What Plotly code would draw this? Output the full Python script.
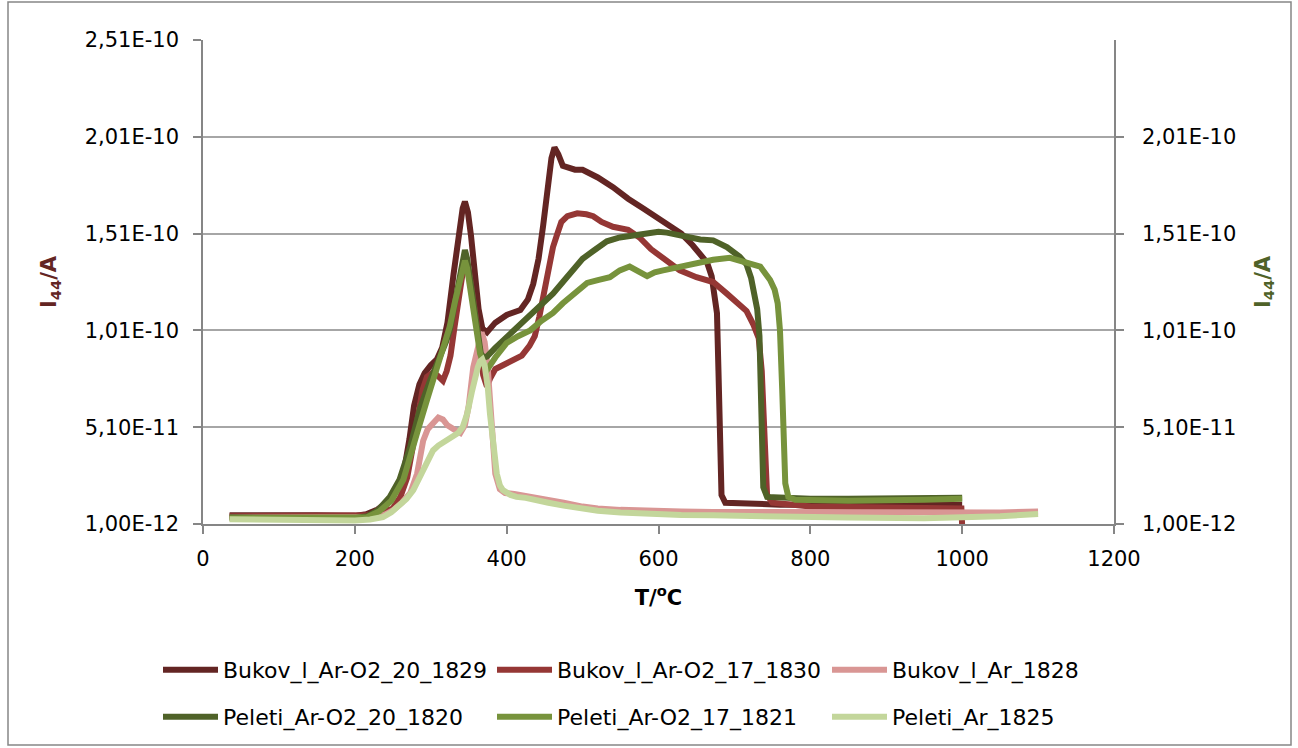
import plotly.graph_objects as go

# ---------------- data (T in °C, I44 in units of 1e-10 A) ----------------
bukov20_T = [35, 100, 150, 200, 215, 230, 245, 255, 265, 272, 278, 285, 292, 300, 308, 315, 322, 330, 337, 342, 345, 349, 353, 358, 363, 368, 374, 385, 400, 418, 428, 435, 442, 448, 454, 459, 463, 468, 474, 480, 490, 500, 510, 520, 540, 560, 580, 600, 615, 630, 645, 655, 664, 670, 674, 677, 679, 680, 681, 683, 688, 720, 760, 850, 950, 1000]
bukov20_I = [0.055, 0.058, 0.055, 0.052, 0.06, 0.085, 0.13, 0.19, 0.29, 0.45, 0.62, 0.73, 0.79, 0.83, 0.86, 0.92, 1.05, 1.30, 1.52, 1.64, 1.675, 1.62, 1.50, 1.32, 1.12, 1.02, 1.00, 1.05, 1.09, 1.115, 1.17, 1.25, 1.38, 1.55, 1.75, 1.90, 1.955, 1.92, 1.86, 1.85, 1.84, 1.84, 1.82, 1.80, 1.75, 1.69, 1.64, 1.59, 1.55, 1.51, 1.45, 1.40, 1.36, 1.29, 1.20, 1.10, 0.80, 0.50, 0.30, 0.16, 0.12, 0.115, 0.11, 0.11, 0.11, 0.11]

bukov17_T = [35, 100, 150, 200, 220, 235, 250, 260, 269, 276, 282, 289, 295, 302, 308, 316, 321, 326, 331, 336, 341, 346, 350, 354, 360, 365, 369, 374, 378, 385, 395, 408, 420, 430, 437, 443, 449, 455, 461, 466, 472, 480, 493, 505, 514, 525, 540, 560, 575, 590, 606, 628, 650, 672, 690, 705, 716, 725, 732, 736, 738, 740, 743, 750, 800, 900, 999, 1000]
bukov17_I = [0.05, 0.05, 0.048, 0.048, 0.055, 0.07, 0.09, 0.15, 0.25, 0.40, 0.55, 0.70, 0.77, 0.79, 0.78, 0.75, 0.80, 0.88, 1.02, 1.18, 1.28, 1.36, 1.32, 1.22, 1.08, 0.93, 0.78, 0.72, 0.76, 0.81, 0.83, 0.86, 0.88, 0.93, 0.98, 1.08, 1.20, 1.33, 1.44, 1.50, 1.57, 1.60, 1.615, 1.61, 1.60, 1.57, 1.545, 1.53, 1.49, 1.43, 1.38, 1.32, 1.285, 1.26, 1.20, 1.15, 1.11, 1.04, 0.97, 0.80, 0.60, 0.30, 0.16, 0.12, 0.10, 0.095, 0.09, 0.0]

bukovAr_T = [35, 100, 150, 200, 225, 240, 250, 262, 273, 282, 290, 296, 303, 310, 316, 322, 330, 339, 345, 350, 356, 362, 367, 371, 375, 379, 382, 385, 391, 398, 410, 425, 440, 455, 475, 500, 520, 550, 585, 630, 672, 760, 850, 950, 1000, 1050, 1100]
bukovAr_I = [0.045, 0.045, 0.042, 0.04, 0.045, 0.06, 0.08, 0.12, 0.17, 0.27, 0.44, 0.50, 0.535, 0.56, 0.55, 0.52, 0.50, 0.48, 0.52, 0.62, 0.82, 0.94, 1.0, 0.95, 0.82, 0.60, 0.40, 0.27, 0.19, 0.17, 0.165, 0.155, 0.15, 0.14, 0.12, 0.10, 0.09, 0.083, 0.077, 0.074, 0.072, 0.07, 0.068, 0.067, 0.067, 0.07, 0.075]

peleti20_T = [35, 100, 150, 200, 216, 230, 246, 259, 273, 286, 299, 312, 320, 325, 330, 334, 339, 343, 345, 348, 352, 355, 358, 362, 366, 370, 374, 385, 400, 415, 431, 446, 461, 474, 487, 500, 514, 532, 549, 566, 585, 600, 611, 628, 655, 672, 690, 707, 716, 722, 727, 730, 733, 735, 736, 738, 743, 760, 800, 850, 900, 950, 1000]
peleti20_I = [0.045, 0.042, 0.04, 0.04, 0.05, 0.08, 0.15, 0.24, 0.41, 0.61, 0.75, 0.87, 0.95, 1.01, 1.12, 1.22, 1.33, 1.41, 1.425, 1.38, 1.27, 1.17, 1.06, 0.96, 0.89, 0.87, 0.875, 0.92, 0.975, 1.03, 1.08, 1.14, 1.20, 1.26, 1.32, 1.38, 1.42, 1.47, 1.49, 1.50, 1.51, 1.52, 1.515, 1.50, 1.48, 1.475, 1.44, 1.39, 1.35, 1.28, 1.20, 1.12, 0.98, 0.70, 0.40, 0.20, 0.15, 0.145, 0.14, 0.14, 0.14, 0.14, 0.145]

peleti17_T = [35, 100, 150, 200, 216, 232, 248, 264, 273, 282, 295, 308, 317, 325, 332, 339, 343, 345, 348, 352, 356, 361, 365, 370, 374, 385, 400, 415, 431, 446, 461, 474, 487, 506, 520, 536, 549, 562, 585, 595, 606, 632, 650, 672, 694, 716, 734, 747, 753, 757, 760, 763, 765, 767, 771, 780, 850, 900, 950, 1000]
peleti17_I = [0.04, 0.04, 0.038, 0.038, 0.045, 0.075, 0.13, 0.24, 0.35, 0.48, 0.65, 0.82, 0.93, 1.03, 1.16, 1.27, 1.34, 1.37, 1.33, 1.23, 1.10, 0.975, 0.89, 0.83, 0.805, 0.87, 0.945, 0.98, 1.01, 1.06, 1.10, 1.15, 1.19, 1.255, 1.27, 1.285, 1.32, 1.34, 1.29, 1.31, 1.32, 1.34, 1.36, 1.375, 1.385, 1.36, 1.34, 1.27, 1.22, 1.15, 1.01, 0.70, 0.40, 0.22, 0.15, 0.135, 0.13, 0.13, 0.135, 0.14]

peletiAr_T = [35, 100, 150, 200, 220, 237, 248, 259, 268, 277, 284, 290, 297, 303, 310, 316, 323, 329, 336, 342, 348, 354, 358, 362, 365, 368, 371, 375, 378, 382, 387, 391, 395, 405, 413, 425, 440, 455, 475, 500, 520, 550, 585, 630, 672, 760, 850, 950, 1000, 1050, 1100]
peletiAr_I = [0.035, 0.03, 0.028, 0.028, 0.033, 0.046, 0.07, 0.108, 0.14, 0.185, 0.24, 0.30, 0.35, 0.39, 0.415, 0.43, 0.445, 0.46, 0.48, 0.51, 0.58, 0.69, 0.77, 0.82, 0.85, 0.86, 0.83, 0.72, 0.58, 0.42, 0.27, 0.21, 0.185, 0.16, 0.15, 0.145, 0.13, 0.12, 0.105, 0.09, 0.078, 0.07, 0.062, 0.057, 0.055, 0.047, 0.043, 0.04, 0.042, 0.05, 0.062]

series_names = ["Bukov_l_Ar-O2_20_1829", "Bukov_l_Ar-O2_17_1830", "Bukov_l_Ar_1828",
                "Peleti_Ar-O2_20_1820", "Peleti_Ar-O2_17_1821", "Peleti_Ar_1825"]
series_colors = ["#632523", "#953735", "#D99694", "#4F6228", "#77933C", "#C3D69B"]

x_ticks = [0, 200, 400, 600, 800, 1000, 1200]
y_tickvals = [1.00e-12, 5.10e-11, 1.01e-10, 1.51e-10, 2.01e-10, 2.51e-10]
y_ticktext = ["1,00E-12", "5,10E-11", "1,01E-10", "1,51E-10", "2,01E-10", "2,51E-10"]

SCALE = 1e-10
FONT = "DejaVu Sans"
TICK_SIZE = 21
LEG_SIZE = 22

data = [
    (bukov20_T, bukov20_I),
    (bukov17_T, bukov17_I),
    (bukovAr_T, bukovAr_I),
    (peleti20_T, peleti20_I),
    (peleti17_T, peleti17_I),
    (peletiAr_T, peletiAr_I),
]

W, H = 1298, 748
L, R, T, B = 203, 184, 40, 224

# legend slot positions (pixels from top-left of figure)
legend_cols_px = [158, 492, 827]
legend_rows_px = [670, 717]

fig = go.Figure()
legend_layouts = {}
for i, ((tx, iy), name, col) in enumerate(zip(data, series_names, series_colors)):
    lname = "legend" if i == 0 else f"legend{i + 1}"
    fig.add_trace(go.Scatter(
        x=tx, y=[v * SCALE for v in iy], name=name, mode="lines",
        line=dict(color=col, width=6),
        yaxis="y" if i < 3 else "y2",
        legend=lname,
    ))
    cx = legend_cols_px[i % 3]
    cy = legend_rows_px[i // 3]
    legend_layouts[lname] = dict(
        xref="container", yref="container",
        x=cx / W, xanchor="left", y=1 - cy / H, yanchor="middle",
        orientation="h", itemwidth=55,
        font=dict(size=LEG_SIZE, family=FONT, color="black"),
        bgcolor="rgba(0,0,0,0)", borderwidth=0,
    )

axis_gray = "#868686"
grid_gray = "#A6A6A6"

fig.update_layout(
    width=W, height=H, autosize=False,
    margin=dict(l=L, r=R, t=T, b=B, pad=0, autoexpand=False),
    paper_bgcolor="white", plot_bgcolor="white",
    font=dict(family=FONT, size=TICK_SIZE, color="black"),
    xaxis=dict(
        range=[0, 1200], tickvals=x_ticks, ticktext=[str(v) for v in x_ticks],
        showgrid=False, zeroline=False, showline=True, linecolor=axis_gray, linewidth=1.5,
        ticks="outside", ticklen=8, tickcolor=axis_gray, tickwidth=1.5,
        tickfont=dict(size=TICK_SIZE, family=FONT), ticklabelstandoff=7,
        title=dict(text="<b>T/<sup>o</sup>C</b>", font=dict(size=TICK_SIZE, family=FONT), standoff=20),
    ),
    yaxis=dict(
        range=[1e-12, 2.51e-10], tickvals=y_tickvals, ticktext=y_ticktext,
        showgrid=True, gridcolor=grid_gray, gridwidth=1.5, zeroline=False,
        showline=True, linecolor=axis_gray, linewidth=1.5,
        ticks="outside", ticklen=8, tickcolor=axis_gray, tickwidth=1.5,
        tickfont=dict(size=TICK_SIZE, family=FONT), ticklabelstandoff=10,
        title=dict(text="<b>I<sub>44</sub>/A</b>", font=dict(size=TICK_SIZE, family=FONT, color="#632523"), standoff=22),
    ),
    yaxis2=dict(
        range=[1e-12, 2.51e-10], tickvals=y_tickvals[:-1], ticktext=y_ticktext[:-1],
        overlaying="y", side="right", showgrid=False, zeroline=False,
        showline=True, linecolor=axis_gray, linewidth=1.5,
        ticks="outside", ticklen=8, tickcolor=axis_gray, tickwidth=1.5,
        tickfont=dict(size=TICK_SIZE, family=FONT), ticklabelstandoff=14,
        title=dict(text="<b>I<sub>44</sub>/A</b>", font=dict(size=TICK_SIZE, family=FONT, color="#4F6228"), standoff=20),
    ),
    showlegend=True,
    shapes=[dict(
        type="rect", xref="paper", yref="paper", layer="below",
        x0=(8 - L) / (W - L - R), x1=(1291 - L) / (W - L - R),
        y0=(H - B - 745) / (H - T - B), y1=(H - B - 2) / (H - T - B),
        line=dict(color=axis_gray, width=1.5), fillcolor="rgba(0,0,0,0)",
    )],
)
fig.update_layout(**legend_layouts)

fig.write_html(
    "out.html",
    config={"displayModeBar": False},
    post_script="document.body.style.margin='0';document.body.style.overflow='hidden';",
)
